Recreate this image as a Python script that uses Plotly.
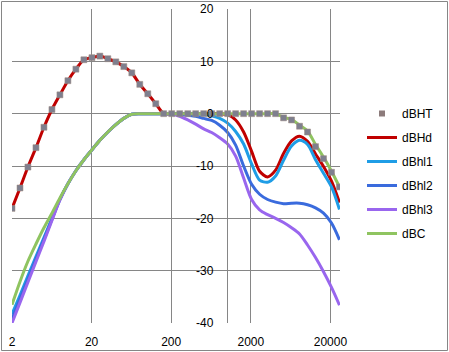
import plotly.graph_objects as go
import math

# 1/3-octave frequencies (Hz)
freq = [2, 2.52, 3.17, 4, 5.04, 6.35, 8, 10.08, 12.7, 16, 20.2, 25.4, 32, 40.3, 50.8, 64,
        80.6, 101.6, 128, 161, 203, 256, 323, 406, 512, 645, 813, 1024, 1290, 1625, 2048,
        2580, 3251, 4096, 5161, 6502, 8192, 10321, 13004, 16384, 20643, 26008]

dBHT = [-18.1, -14.2, -10.2, -6.5, -2.6, 0.8, 3.6, 6.3, 8.5, 10.3, 10.7, 11.0, 10.5, 9.9, 9.0, 7.8,
        5.6, 3.8, 1.9, 0, 0, 0, 0, 0, 0, 0, 0, 0, 0, 0, 0,
        0, 0, 0, -0.8, -1.2, -2.4, -3.5, -6.3, -8.6, -11.2, -14.0]

dBHd = [-18.1, -14.2, -10.2, -6.5, -2.6, 0.8, 3.6, 6.3, 8.5, 10.3, 10.7, 11.0, 10.5, 9.9, 9.0, 7.8,
        5.6, 3.8, 1.9, 0, 0, 0, 0, 0, 0, 0, 0, -0.2, -1.2, -3.5, -7.2,
        -11.0, -12.1, -10.8, -7.6, -5.2, -4.3, -5.3, -7.7, -10.1, -12.9, -17.0]

dBhl1 = [-38.3, -34.7, -31.0, -27.3, -23.7, -20.0, -16.4, -13.4, -10.9, -8.8, -6.9, -5.1, -3.5, -2.1, -0.9, -0.1,
         0, 0, 0, 0, 0, 0, 0, 0, -0.1, -0.4, -0.9, -1.8, -3.4, -5.8, -9.6,
         -12.7, -13.1, -11.9, -8.9, -6.2, -5.1, -5.9, -8.8, -11.4, -14.0, -18.3]

dBhl2 = [-39.2, -35.4, -31.6, -27.8, -24.0, -20.2, -16.4, -13.4, -10.9, -8.8, -6.9, -5.1, -3.5, -2.1, -0.9, -0.1,
         0, 0, 0, 0, 0, -0.1, -0.3, -0.5, -0.9, -1.3, -2.2, -3.6, -6.0, -10.0, -13.5,
         -15.4, -16.4, -16.9, -17.2, -17.1, -17.1, -17.4, -18.0, -19.0, -20.9, -24.1]

dBhl3 = [-40.0, -36.1, -32.2, -28.3, -24.4, -20.4, -16.5, -13.4, -10.9, -8.8, -6.9, -5.1, -3.5, -2.1, -0.9, -0.1,
         0, 0, 0, 0, -0.1, -0.5, -1.2, -2.0, -2.9, -3.6, -4.6, -5.8, -8.1, -12.3, -16.4,
         -18.4, -19.3, -20.0, -20.8, -21.8, -23.0, -25.1, -27.5, -30.2, -33.2, -36.6]

dBC = [-36.5, -32.1, -28.2, -24.9, -21.8, -19.0, -16.1, -13.4, -10.9, -8.8, -6.9, -5.1, -3.5, -2.1, -0.9, -0.1,
       0, 0, 0, 0, 0, 0, 0, 0, 0, 0, 0, 0, 0, 0, 0,
       0, 0, 0, -0.7, -1.1, -2.2, -3.3, -5.9, -8.3, -11.0, -14.0]

x_tickvals = [2, 20, 200, 2000, 20000]
x_ticktext = ["2", "20", "200", "2000", "20000"]
y_tickvals = [20, 10, 0, -10, -20, -30, -40]
y_ticktext = ["20", "10", "0", "-10", "-20", "-30", "-40"]

W, H = 449, 352
ML, MR, MT, MB = 12, 109, 9, 29
PW, PH = W - ML - MR, H - MT - MB
XMIN, XMAX = 2, 26400
GRID = "#868686"
FONT = "Liberation Sans"

series = [
    ("dBHd", dBHd, "#C00000"),
    ("dBhl1", dBhl1, "#1F9DE6"),
    ("dBhl2", dBhl2, "#3A6BDD"),
    ("dBhl3", dBhl3, "#9966EE"),
    ("dBC", dBC, "#8FC460"),
]

marker_style = dict(symbol="square", size=6, color="#7E7F8E", line=dict(color="#A08C80", width=0.5))

fig = go.Figure()
# legend entry for dBHT (markers drawn last, on top of the lines)
fig.add_trace(go.Scatter(x=[None], y=[None], mode="markers", name="dBHT",
                         marker=dict(symbol="square", size=6, color="#8C7B7B"), legendgroup="a"))
for i, (name, vals, col) in enumerate(series):
    fig.add_trace(go.Scatter(x=freq, y=vals, mode="lines", name=name,
                             line=dict(color=col, width=3, shape="spline", smoothing=0.8),
                             legendgroup="g%d" % i))
fig.add_trace(go.Scatter(x=freq, y=dBHT, mode="markers", name="dBHT", showlegend=False,
                         marker=marker_style, cliponaxis=True))

lx0, lx1 = math.log10(XMIN), math.log10(XMAX)
ypos = (3 - lx0) / (lx1 - lx0)

fig.update_layout(
    width=W, height=H,
    margin=dict(l=ML, r=MR, t=MT, b=MB, pad=0, autoexpand=False),
    paper_bgcolor="white", plot_bgcolor="white",
    font=dict(family=FONT, size=12, color="black"),
    showlegend=True,
    legend=dict(x=(362 - ML) / PW, y=1 - (99 - MT) / PH, xanchor="left", yanchor="top",
                font=dict(family=FONT, size=12, color="black"),
                tracegroupgap=5, bgcolor="rgba(0,0,0,0)", itemwidth=30),
    xaxis=dict(type="log", range=[lx0, lx1], tickvals=x_tickvals, ticktext=x_ticktext,
               showgrid=True, gridcolor=GRID, gridwidth=1, zeroline=False, showline=False,
               ticks="", ticklabelstandoff=10, automargin=False,
               tickfont=dict(family=FONT, size=12)),
    yaxis=dict(range=[-40, 20], tickvals=y_tickvals, ticktext=y_ticktext,
               showgrid=True, gridcolor=GRID, gridwidth=1, zeroline=False,
               anchor="free", position=ypos, side="left", automargin=False,
               showline=True, linecolor=GRID, linewidth=1,
               ticks="", ticklabelstandoff=11, tickfont=dict(family=FONT, size=12)),
    shapes=[dict(type="rect", xref="paper", yref="paper",
                 x0=(1.5 - ML) / PW, x1=(447.5 - ML) / PW,
                 y0=1 - (350.5 - MT) / PH, y1=1 - (1.5 - MT) / PH,
                 line=dict(color=GRID, width=1), fillcolor="rgba(0,0,0,0)", layer="below")],
)

fig.write_html("out.html")
